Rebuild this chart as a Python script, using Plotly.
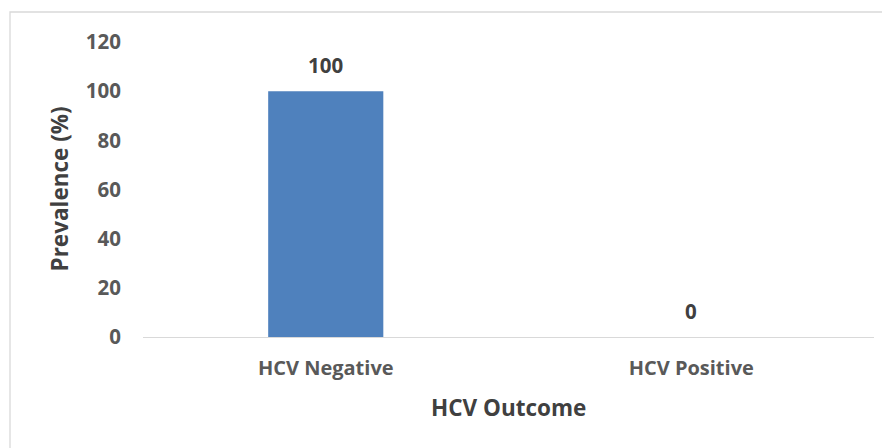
import plotly.graph_objects as go

categories = ["HCV Negative", "HCV Positive"]
values = [100, 0]
y_ticks = [0, 20, 40, 60, 80, 100, 120]

FONT = "Open Sans"
OFF = 8  # default body margin of the page
W, H = 890, 448
L, T = 143 - OFF, 42 - OFF
R = W - (874 - OFF)
B = H - (337 - OFF)
pw, ph = W - L - R, H - T - B

fig = go.Figure(go.Bar(
    x=categories, y=values,
    marker=dict(color="#4F81BD", line=dict(width=0)),
    hoverinfo="x+y",
))

for c, v in zip(categories, values):
    fig.add_annotation(x=c, y=v, text=f"<b>{v}</b>", showarrow=False,
                       yshift=26, font=dict(family=FONT, size=20.5, color="#404040"))

fig.add_annotation(xref="paper", yref="paper", x=0.5, y=(337 - 407) / ph,
                   text="<b>HCV Outcome</b>", showarrow=False, yanchor="middle",
                   font=dict(family=FONT, size=22.5, color="#404040"))
fig.add_annotation(xref="paper", yref="paper", x=(59 - 143) / pw, y=0.5,
                   text="<b>Prevalence (%)</b>", showarrow=False, textangle=-90,
                   xanchor="center", yanchor="middle",
                   font=dict(family=FONT, size=22.5, color="#404040"))

fig.add_shape(type="rect", xref="paper", yref="paper",
              x0=(10 - 143) / pw, x1=(900 - 143) / pw,
              y0=-(120) / ph, y1=1 + 30 / ph,
              line=dict(color="#D9D9D9", width=1.3), fillcolor="rgba(0,0,0,0)", layer="below")

fig.update_layout(
    width=W, height=H,
    margin=dict(l=L, r=R, t=T, b=B),
    paper_bgcolor="white", plot_bgcolor="white",
    bargap=0.685, showlegend=False,
    font=dict(family=FONT, color="#595959"),
    xaxis=dict(showline=True, linecolor="#D9D9D9", linewidth=1.3, showgrid=False,
               ticks="", ticklabelstandoff=13,
               tickfont=dict(family=FONT, size=20, color="#595959", weight="bold")),
    yaxis=dict(range=[0, 120], tickvals=y_ticks, showgrid=False, zeroline=False,
               showline=False, ticks="", ticklabelstandoff=21,
               tickfont=dict(family=FONT, size=20.5, color="#595959", weight="bold")),
)

fig.write_html("out.html")
